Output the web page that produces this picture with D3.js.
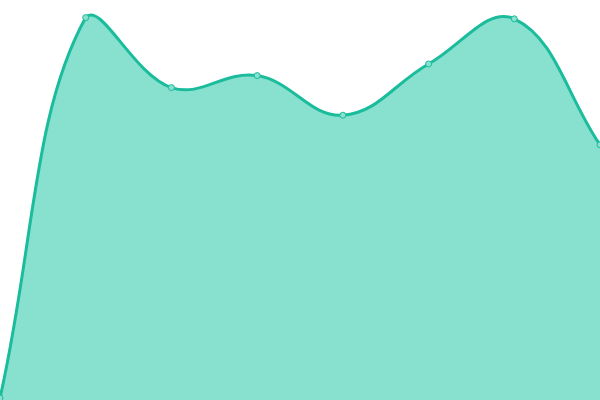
<!DOCTYPE html>
<html>
<head>
<meta charset="utf-8">
<script src="https://cdn.jsdelivr.net/npm/d3@7"></script>
<style>
  body { margin: 0; background: #fff; }
  svg { display: block; }
</style>
</head>
<body>
<div id="chart"></div>
<script>
// values (scale 0..100)
const categories = ['A', 'B', 'C', 'D', 'E', 'F', 'G', 'H'];
const values = [0.5, 95.6, 78.1, 81.1, 71.2, 84.0, 95.3, 63.8];

const width = 600, height = 400;
const tension = 0.4;

const svg = d3.select('#chart').append('svg')
    .attr('width', width)
    .attr('height', height);

const x = d3.scalePoint()
    .domain(categories)
    .range([0, width]);

const y = d3.scaleLinear()
    .domain([0, 100])
    .range([height, 0]);

const pts = categories.map((c, i) => ({x: x(c), y: y(values[i]), value: values[i]}));

// spline control points, distance weighted, clamped to the plot area
function controlPoints(points, t) {
    const clampX = v => Math.max(0, Math.min(width, v));
    const clampY = v => Math.max(0, Math.min(height, v));
    return points.map((cur, i) => {
        const prev = points[Math.max(i - 1, 0)];
        const next = points[Math.min(i + 1, points.length - 1)];
        const d01 = Math.hypot(cur.x - prev.x, cur.y - prev.y);
        const d12 = Math.hypot(next.x - cur.x, next.y - cur.y);
        let s01 = d01 / (d01 + d12), s12 = d12 / (d01 + d12);
        if (isNaN(s01)) s01 = 0;
        if (isNaN(s12)) s12 = 0;
        const fa = t * s01, fb = t * s12;
        return {
            inX: clampX(cur.x - fa * (next.x - prev.x)),
            inY: clampY(cur.y - fa * (next.y - prev.y)),
            outX: clampX(cur.x + fb * (next.x - prev.x)),
            outY: clampY(cur.y + fb * (next.y - prev.y))
        };
    });
}

function splinePath(points, closeArea) {
    const cps = controlPoints(points, tension);
    const p = d3.path();
    p.moveTo(points[0].x, points[0].y);
    for (let i = 1; i < points.length; i++) {
        p.bezierCurveTo(cps[i - 1].outX, cps[i - 1].outY, cps[i].inX, cps[i].inY, points[i].x, points[i].y);
    }
    if (closeArea) {
        p.lineTo(points[points.length - 1].x, y(0) > height ? height : height);
        p.lineTo(points[0].x, height);
        p.closePath();
    }
    return p.toString();
}

svg.append('path')
    .attr('d', splinePath(pts, true))
    .attr('fill', '#88e0cf');

svg.append('path')
    .attr('d', splinePath(pts, false))
    .attr('fill', 'none')
    .attr('stroke', '#1abc9c')
    .attr('stroke-width', 3);

svg.selectAll('.dot')
    .data(pts)
    .enter().append('circle')
    .attr('class', 'dot')
    .attr('cx', d => d.x)
    .attr('cy', d => d.y)
    .attr('r', 3)
    .attr('fill', '#88e0cf')
    .attr('stroke', '#1abc9c')
    .attr('stroke-width', 1);
</script>
</body>
</html>
